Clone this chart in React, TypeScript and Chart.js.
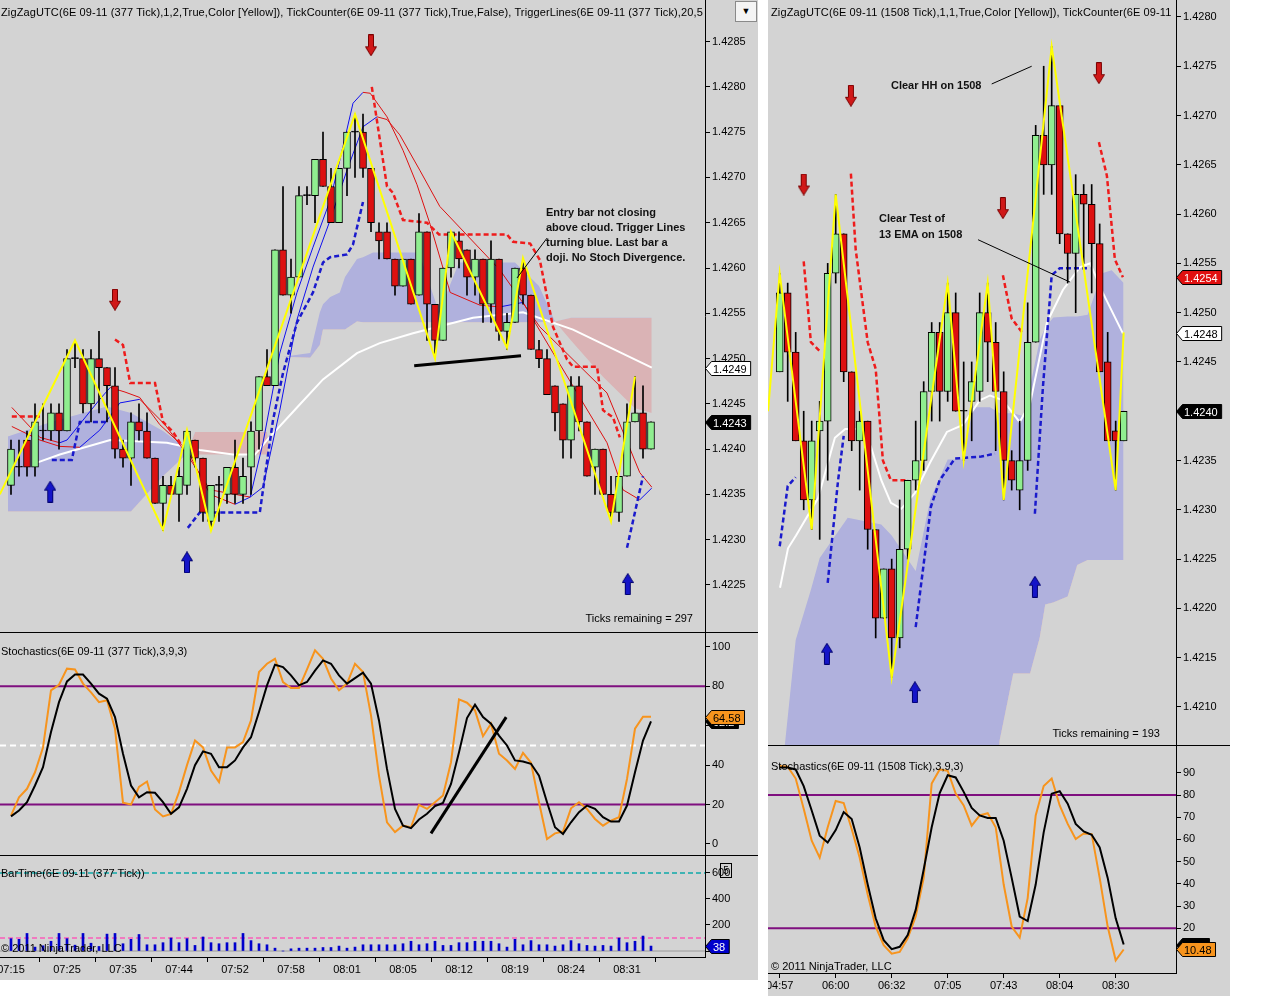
import React, { useEffect, useRef } from "react";
import { Chart, registerables } from "chart.js";

Chart.register(...registerables);

type XY = [number, number];

/* ================= LEFT CHART : 6E 09-11 (377 Tick) ================= */
const L_OPEN = [
  1.4236, 1.4238, 1.4241, 1.4238, 1.4242, 1.4242, 1.4244, 1.4242, 1.4250, 1.4250,
  1.4245, 1.4250, 1.4249, 1.4247, 1.4240, 1.4239, 1.4243, 1.4242, 1.4239, 1.4234,
  1.4236, 1.4235, 1.4236, 1.4241, 1.4239, 1.4232, 1.4236, 1.4235, 1.4238, 1.4235,
  1.4238, 1.4242, 1.4248, 1.4247, 1.4262, 1.4257, 1.4259, 1.4268, 1.4268, 1.4272,
  1.4269, 1.4265, 1.4271, 1.4275, 1.4275, 1.4271, 1.4264, 1.4264, 1.4261, 1.4258,
  1.4261, 1.4257, 1.4264, 1.4256, 1.4252, 1.4260, 1.4263, 1.4262, 1.4259, 1.4261,
  1.4256, 1.4261, 1.4253, 1.4254, 1.4260, 1.4257, 1.4251, 1.4250, 1.4247, 1.4245,
  1.4241, 1.4247, 1.4243, 1.4238, 1.4240, 1.4235, 1.4233, 1.4237, 1.4243, 1.4244,
  1.4240,
];
const L_HIGH = [
  1.4241, 1.4241, 1.4242, 1.4245, 1.4245, 1.4245, 1.4245, 1.4251, 1.4252, 1.4251,
  1.4251, 1.4253, 1.4249, 1.4249, 1.4241, 1.4244, 1.4245, 1.4244, 1.4239, 1.4237,
  1.4237, 1.4238, 1.4242, 1.4241, 1.4239, 1.4236, 1.4237, 1.4238, 1.4241, 1.4239,
  1.4243, 1.4248, 1.4251, 1.4262, 1.4269, 1.4261, 1.4269, 1.4269, 1.4272, 1.4275,
  1.4271, 1.4271, 1.4275, 1.4277, 1.4277, 1.4271, 1.4265, 1.4265, 1.4261, 1.4261,
  1.4261, 1.4266, 1.4264, 1.4256, 1.4260, 1.4264, 1.4264, 1.4262, 1.4262, 1.4261,
  1.4263, 1.4261, 1.4255, 1.4260, 1.4261, 1.4257, 1.4252, 1.4251, 1.4247, 1.4245,
  1.4248, 1.4248, 1.4243, 1.4240, 1.4240, 1.4237, 1.4237, 1.4245, 1.4248, 1.4247,
  1.4243,
];
const L_LOW = [
  1.4235, 1.4237, 1.4237, 1.4237, 1.4241, 1.4241, 1.4240, 1.4242, 1.4249, 1.4244,
  1.4243, 1.4244, 1.4243, 1.4239, 1.4238, 1.4236, 1.4241, 1.4239, 1.4234, 1.4231,
  1.4235, 1.4232, 1.4235, 1.4238, 1.4232, 1.4231, 1.4232, 1.4234, 1.4234, 1.4234,
  1.4235, 1.4240, 1.4247, 1.4247, 1.4257, 1.4255, 1.4259, 1.4267, 1.4265, 1.4269,
  1.4265, 1.4265, 1.4268, 1.4270, 1.4270, 1.4264, 1.4261, 1.4261, 1.4257, 1.4258,
  1.4256, 1.4257, 1.4252, 1.4250, 1.4252, 1.4259, 1.4260, 1.4257, 1.4257, 1.4254,
  1.4254, 1.4252, 1.4251, 1.4254, 1.4256, 1.4251, 1.4249, 1.4246, 1.4242, 1.4239,
  1.4239, 1.4242, 1.4237, 1.4235, 1.4235, 1.4232, 1.4232, 1.4237, 1.4243, 1.4239,
  1.4240,
];
const L_CLOSE = [
  1.4240, 1.4238, 1.4238, 1.4243, 1.4242, 1.4244, 1.4242, 1.4250, 1.4250, 1.4245,
  1.4250, 1.4249, 1.4247, 1.4240, 1.4239, 1.4243, 1.4242, 1.4239, 1.4234, 1.4236,
  1.4235, 1.4237, 1.4242, 1.4239, 1.4233, 1.4236, 1.4236, 1.4238, 1.4235, 1.4237,
  1.4242, 1.4248, 1.4247, 1.4262, 1.4257, 1.4259, 1.4268, 1.4268, 1.4272, 1.4269,
  1.4265, 1.4271, 1.4275, 1.4275, 1.4271, 1.4265, 1.4263, 1.4261, 1.4258, 1.4261,
  1.4256, 1.4264, 1.4256, 1.4252, 1.4260, 1.4264, 1.4261, 1.4259, 1.4261, 1.4256,
  1.4261, 1.4253, 1.4254, 1.4260, 1.4257, 1.4251, 1.4250, 1.4246, 1.4244, 1.4241,
  1.4247, 1.4243, 1.4237, 1.4240, 1.4235, 1.4233, 1.4237, 1.4243, 1.4244, 1.4240,
  1.4243,
];
const L_TIME_IDX = [0, 7, 14, 21, 28, 35, 42, 49, 56, 63, 70, 77];
const L_TIME_LABELS = ["07:15", "07:25", "07:35", "07:44", "07:52", "07:58", "08:01", "08:05", "08:12", "08:19", "08:24", "08:31"];
const L_PRICE_TICKS = [1.4225, 1.423, 1.4235, 1.424, 1.4245, 1.425, 1.4255, 1.426, 1.4265, 1.427, 1.4275, 1.428, 1.4285];

const L_CLOUD_IDX = [-0.4, 5, 12, 15, 19, 22, 23, 32, 32.2, 34, 37.4, 38.6, 39, 39.9, 41.1, 41.75, 43.25, 44, 45.25, 51, 53.5, 56, 63, 66, 68, 70, 74, 78, 80.1];
const L_CLOUD_A = [1.42414, 1.4243, 1.42447, 1.4244, 1.4242, 1.424, 1.42394, 1.42394, 1.424, 1.42502, 1.42506, 1.42551, 1.4256, 1.42568, 1.42573, 1.4259, 1.4261, 1.42612, 1.42617, 1.42617, 1.42551, 1.42606, 1.42606, 1.4258, 1.42541, 1.4252, 1.4248, 1.42445, 1.4244];
const L_CLOUD_B = [1.42331, 1.42331, 1.42331, 1.42331, 1.4237, 1.42395, 1.42419, 1.42419, 1.424, 1.42502, 1.42501, 1.42515, 1.42532, 1.42532, 1.42532, 1.42532, 1.42541, 1.4254, 1.4254, 1.4254, 1.4254, 1.4254, 1.4254, 1.4254, 1.42541, 1.42545, 1.42545, 1.42545, 1.42545];

const L_WHITE: XY[] = [[3.25, 1.42385], [6.1, 1.42394], [12.4, 1.4241], [19.5, 1.42407], [23.6, 1.42399], [27.75, 1.42394], [30.5, 1.42394], [32, 1.4241], [35.75, 1.42446], [39, 1.42477], [43.25, 1.42506], [46.1, 1.42517], [50.25, 1.42528], [57.75, 1.42545], [64, 1.42551], [70.25, 1.42532], [80.1, 1.4249]];
const L_MA_FAST: XY[] = [[0.1, 1.42446], [3.6, 1.42413], [6.1, 1.42407], [7, 1.4241], [11.1, 1.42455], [12.4, 1.42468], [14.25, 1.42463], [16.1, 1.42457], [18.6, 1.42427], [22, 1.42399], [24.9, 1.4235], [28, 1.42339], [29.9, 1.42347], [31.5, 1.42407], [33.6, 1.42506], [35.75, 1.42573], [37.75, 1.42623], [39.9, 1.42675], [41.1, 1.42719], [42.75, 1.42782], [44, 1.42794], [44.9, 1.42793], [47, 1.42767], [49, 1.4273], [50.75, 1.42692], [52.4, 1.42648], [54.9, 1.42573], [58.6, 1.42559], [61.1, 1.42557], [64, 1.42562], [68.25, 1.42499], [74.5, 1.42407], [76.5, 1.42355], [78.6, 1.42344], [80.1, 1.42357]];
const L_MA_SLOW: XY[] = [[0.1, 1.42425], [3.6, 1.4241], [6.1, 1.42403], [8.6, 1.42402], [11.1, 1.42421], [13.6, 1.42451], [16.1, 1.42455], [19.25, 1.42427], [22, 1.42394], [24.9, 1.42355], [29.9, 1.42347], [31.5, 1.42358], [33.6, 1.42443], [35.75, 1.42543], [37.75, 1.42601], [39.9, 1.42653], [42, 1.42708], [44, 1.42756], [45.75, 1.42767], [47, 1.42764], [48.6, 1.42747], [51.1, 1.42708], [53.6, 1.42668], [61.1, 1.42598], [66.1, 1.42535], [74.5, 1.42462], [78.6, 1.42374], [80.1, 1.42358]];
const L_TRIG_RED: XY[][] = [
  [[0.1, 1.42436], [3.6, 1.42436]],
  [[13, 1.42521], [14, 1.42515], [14.9, 1.42473], [18, 1.42473], [19, 1.4243], [20.25, 1.42419], [21.4, 1.42403]],
  [[45.1, 1.428], [47, 1.4269], [47.75, 1.42683], [49, 1.42653], [52, 1.4265], [53.5, 1.42637], [62, 1.42637], [62.75, 1.42629], [64.9, 1.42627], [66.1, 1.42609], [67.75, 1.42535], [69.5, 1.42499], [70.25, 1.42491], [73.25, 1.42491], [74, 1.42443], [75.25, 1.42435], [76.1, 1.42413]],
];
const L_TRIG_BLUE: XY[][] = [
  [[5.1, 1.42388], [7.6, 1.42388], [8.6, 1.4243], [12, 1.4243]],
  [[22.1, 1.42313], [23.6, 1.4233], [31.1, 1.4233], [31.5, 1.42355], [32.75, 1.42432], [34, 1.42484], [35.75, 1.4254], [37.75, 1.42573], [39, 1.42606], [39.9, 1.42612], [42, 1.42615], [42.75, 1.42626], [44, 1.42673]],
  [[77, 1.42291], [79, 1.4237]],
];
const L_ZIGZAG: XY[] = [[-1.4, 1.4235], [8, 1.4252], [19, 1.42311], [22, 1.42421], [25, 1.4231], [43, 1.4277], [53, 1.425], [55, 1.4264], [62, 1.42512], [64, 1.42611], [75, 1.4232], [78, 1.4248]];
const L_ARROW_DOWN: XY[] = [[13, 1.42565], [45, 1.42846]];
const L_ARROW_UP: XY[] = [[4.9, 1.42353], [22, 1.42275], [77.1, 1.42251]];
const L_NOTE_LINE: XY[] = [[50.4, 1.42492], [63.75, 1.42503]];
const L_NOTE_PTR: XY[] = [[67, 1.42633], [63.25, 1.42589]];

const L_STOCH_K = [
  14.4, 23.7, 28, 36.4, 49, 78, 80.8, 89, 88.6, 81.4,
  77, 72, 73, 58.5, 21, 20, 29, 31.7, 17.5, 14,
  15.3, 26.3, 40, 52.5, 49, 37.3, 31.4, 49, 49, 51.7,
  62.7, 87.3, 91.5, 94, 82.2, 79.2, 79.2, 88.6, 98.3, 94,
  84, 78, 81.4, 91.5, 87.3, 65.3, 34.7, 11, 6, 9.3,
  8.5, 19.8, 17.8, 21.2, 24.6, 41.5, 73.4, 71.7, 67.8, 54.7,
  61, 45.8, 42.4, 38.1, 46.3, 41.2, 21.2, 2.5, 5.4, 6.3,
  18.1, 21.2, 17.8, 12.7, 9.3, 11.9, 13.6, 33, 58.5, 64.6,
  64.58,
];
const L_STOCH_D = [
  14, 17, 21.2, 29.7, 39, 56.8, 72, 82.5, 86, 86,
  81.4, 76.3, 73.7, 64.4, 45.8, 29.7, 23.7, 26.3, 26, 21.2,
  15.3, 18.6, 28, 40, 47, 45.8, 39, 39, 42.4, 49,
  54.2, 67, 80.5, 91, 89.8, 85.6, 80.5, 82.2, 88, 93.2,
  91.5, 85.6, 81.4, 84.2, 87, 81.4, 62.7, 38.1, 17.8, 9.3,
  8, 12.4, 15.3, 19.2, 20.8, 30.5, 46.6, 63.9, 70.7, 64.4,
  61, 55, 50, 42.4, 41.9, 40.7, 34.7, 21.2, 8.5, 5.1,
  11, 16.1, 19.5, 17.8, 13.6, 11.4, 11.4, 19.5, 36.4, 52.5,
  62.2,
];
const L_STOCH_NOTE: XY[] = [[52.5, 5.4], [61.9, 64.4]];
const L_STOCH_TICKS = [0, 20, 40, 60, 80, 100];
const STOCH_BANDS = [80, 20];
const STOCH_MID = 50;

const L_BARTIME = [
  95, 90, 135, 30, 40, 75, 135, 95, 45, 135,
  60, 35, 130, 135, 56, 90, 127, 48, 48, 64,
  100, 64, 95, 43, 108, 64, 56, 64, 64, 135,
  80, 56, 48, 22, 0, 17, 22, 22, 22, 27,
  27, 38, 22, 30, 48, 48, 48, 48, 48, 56,
  75, 48, 56, 75, 43, 43, 64, 64, 75, 75,
  75, 56, 30, 90, 48, 80, 48, 48, 38, 48,
  80, 56, 43, 38, 43, 38, 100, 64, 75, 115,
  38,
];
const L_BARTIME_TICKS = [0, 200, 400, 600];
const BARTIME_UPPER = 600;
const BARTIME_LOWER = 100;

/* ================= RIGHT CHART : 6E 09-11 (1508 Tick) ================= */
const R_OPEN = [1.4244, 1.4252, 1.4246, 1.4237, 1.4231, 1.4238, 1.4239, 1.4254, 1.4258, 1.4244, 1.4237, 1.4239, 1.4228, 1.4219, 1.4224, 1.4217, 1.4226, 1.4233, 1.4235, 1.4242, 1.4248, 1.4242, 1.425, 1.424, 1.4241, 1.4242, 1.425, 1.4247, 1.4242, 1.4235, 1.4232, 1.4235, 1.4247, 1.4268, 1.4265, 1.4271, 1.4258, 1.4256, 1.4262, 1.4261, 1.4257, 1.4245, 1.4238, 1.4237];
const R_HIGH = [1.4254, 1.4253, 1.4248, 1.424, 1.4239, 1.4241, 1.4255, 1.4262, 1.4258, 1.4244, 1.424, 1.4239, 1.4228, 1.4224, 1.4225, 1.4231, 1.4233, 1.4239, 1.4243, 1.4249, 1.4249, 1.4253, 1.4252, 1.4245, 1.4245, 1.4252, 1.4253, 1.4249, 1.4244, 1.4236, 1.4239, 1.4251, 1.4269, 1.4275, 1.4277, 1.4271, 1.4258, 1.4264, 1.4263, 1.4263, 1.4259, 1.4248, 1.4239, 1.424];
const R_LOW = [1.4244, 1.4241, 1.4237, 1.423, 1.4228, 1.4227, 1.4233, 1.4253, 1.4243, 1.4236, 1.4232, 1.4226, 1.4217, 1.4219, 1.4213, 1.4216, 1.4225, 1.4232, 1.4234, 1.4239, 1.4239, 1.4241, 1.424, 1.4235, 1.4237, 1.4241, 1.4243, 1.4236, 1.4231, 1.4232, 1.423, 1.4234, 1.4247, 1.4262, 1.4262, 1.4257, 1.4253, 1.425, 1.4255, 1.4252, 1.4244, 1.4237, 1.4232, 1.4237];
const R_CLOSE = [1.4252, 1.4246, 1.4237, 1.4231, 1.4237, 1.4239, 1.4254, 1.4258, 1.4244, 1.4237, 1.4239, 1.4228, 1.4219, 1.4224, 1.4217, 1.4226, 1.4233, 1.4235, 1.4242, 1.4248, 1.4242, 1.425, 1.424, 1.424, 1.4243, 1.425, 1.4247, 1.4242, 1.4235, 1.4233, 1.4235, 1.4247, 1.4268, 1.4265, 1.4271, 1.4258, 1.4256, 1.4262, 1.4261, 1.4257, 1.4244, 1.4237, 1.4237, 1.424];
const R_TIME_IDX = [0, 7, 14, 21, 28, 35, 42];
const R_TIME_LABELS = ["04:57", "06:00", "06:32", "07:05", "07:43", "08:04", "08:30"];
const R_PRICE_TICKS = [1.421, 1.4215, 1.422, 1.4225, 1.423, 1.4235, 1.424, 1.4245, 1.425, 1.4255, 1.426, 1.4265, 1.427, 1.4275, 1.428];

const R_CLOUD_IDX = [-1.5, 0.7, 2, 3.9, 5, 8.5, 12.7, 14, 17, 18.8, 21, 22.9, 24.2, 26.3, 27.5, 29.2, 30.5, 31.3, 32.5, 33.2, 34.2, 36, 37.2, 38.5, 40.3, 41.5, 43];
const R_CLOUD_A = [1.419, 1.42066, 1.42168, 1.42219, 1.42251, 1.42292, 1.42285, 1.42274, 1.42238, 1.4231, 1.42351, 1.42351, 1.42404, 1.42404, 1.42398, 1.42398, 1.42395, 1.42425, 1.42472, 1.42485, 1.42495, 1.42496, 1.42496, 1.42498, 1.4254, 1.42543, 1.4253];
const R_CLOUD_B = [1.419, 1.419, 1.419, 1.419, 1.419, 1.419, 1.419, 1.419, 1.419, 1.419, 1.419, 1.419, 1.419, 1.419, 1.42066, 1.42134, 1.42134, 1.42134, 1.4217, 1.42204, 1.42206, 1.42212, 1.42244, 1.42249, 1.42249, 1.42249, 1.42249];

const R_WHITE: XY[] = [[0.04, 1.42221], [1.04, 1.42261], [2.04, 1.42274], [4.8, 1.42312], [6.9, 1.42373], [8.2, 1.42382], [10.2, 1.42382], [11.4, 1.42364], [12.7, 1.4233], [13.9, 1.42307], [15.2, 1.42301], [16.9, 1.42317], [18.8, 1.42348], [20.9, 1.42379], [22.9, 1.42386], [25, 1.42411], [26.3, 1.42416], [27.9, 1.42411], [30, 1.42389], [31.3, 1.42408], [33.4, 1.4249], [35.4, 1.42523], [37.5, 1.42546], [38.8, 1.4255], [40.4, 1.4252], [42.9, 1.42479]];
const R_TRIG_RED: XY[][] = [
  [[3, 1.42552], [3.9, 1.4247], [5, 1.42461]],
  [[8.9, 1.42641], [9.5, 1.42564], [11, 1.4247], [12, 1.42443], [12.9, 1.4235], [13.9, 1.4233], [15.8, 1.4233]],
  [[27.9, 1.42538], [29, 1.42494], [30.4, 1.42479]],
  [[39.9, 1.42673], [40.9, 1.42639], [41.9, 1.42554], [42.9, 1.42536]],
];
const R_TRIG_BLUE: XY[][] = [
  [[0, 1.42263], [1, 1.42324], [2, 1.42333]],
  [[6, 1.42226], [7.3, 1.4233], [8, 1.42375]],
  [[17, 1.42181], [18.9, 1.42303], [20, 1.4233], [21.9, 1.42352], [25.2, 1.42354], [26.9, 1.42357]],
  [[31.9, 1.42296], [32.9, 1.42424], [33.8, 1.42517], [34, 1.42538], [35, 1.42545], [38.8, 1.42545]],
];
const R_ZIGZAG: XY[] = [[-1.46, 1.424], [0, 1.4254], [4, 1.4228], [7, 1.4262], [14, 1.4213], [21, 1.4253], [23, 1.4235], [26, 1.4253], [28, 1.4231], [34, 1.4277], [42, 1.4232], [43, 1.4248]];
const R_ARROW_DOWN: XY[] = [[3, 1.4263], [8.9, 1.4272], [27.9, 1.42606], [39.9, 1.42743]];
const R_ARROW_UP: XY[] = [[5.9, 1.42154], [16.9, 1.42115], [31.9, 1.42222]];
const R_NOTE_PTR1: XY[] = [[26.5, 1.42732], [31.5, 1.4275]];
const R_NOTE_PTR2: XY[] = [[24.8, 1.42574], [36.3, 1.42531]];

const R_STOCH_K = [93, 92.7, 87.4, 73.8, 59.4, 51.8, 65.5, 77.3, 76.4, 64.7, 51.8, 35.2, 20.8, 12.4, 8.6, 9.4, 15.5, 25.3, 42.7, 85.2, 91.5, 90.9, 80.6, 75.3, 66.2, 70.8, 71.8, 65.5, 39.7, 20.8, 15.8, 33.6, 70.8, 84, 87.4, 75.3, 67, 60.2, 62.7, 62.4, 42.7, 20.8, 5.6, 10.48];
const R_STOCH_D = [92.4, 92.4, 91.5, 84, 73, 61.7, 58.6, 64.2, 72.3, 69.2, 56.4, 39.7, 24.5, 14.7, 10.6, 11.7, 17, 28.3, 46.5, 65.5, 80.9, 88.9, 87.9, 81.4, 74.2, 70.8, 69.7, 69.7, 59.4, 42.7, 25.3, 23.3, 39.7, 63.2, 80.6, 81.7, 76.1, 67, 63.6, 62.1, 56.4, 42.7, 24.5, 12.7];
const R_STOCH_TICKS = [10, 20, 30, 40, 50, 60, 70, 80, 90];

/* ================= styling ================= */
const GRAY = "#d3d3d3";
const FONT = "'Liberation Sans', Arial, sans-serif";
const GREEN_BODY = "#90ee90";
const RED_BODY = "#dd1010";
const CLOUD_BLUE = "#b0b1dd";
const CLOUD_RED = "#dab3b5";
const YELLOW = "#ffff00";
const TRIG_RED = "#ee1c1c";
const TRIG_BLUE = "#1a1acc";
const MA_RED = "#dd1111";
const MA_BLUE = "#1010ee";
const PURPLE = "#7f0f7f";
const ORANGE = "#f7941d";

/* ================= helpers ================= */
const pts = (a: XY[]) => a.map(([x, y]) => ({ x, y }));
const zip = (xs: number[], ys: number[]) => xs.map((x, i) => ({ x, y: ys[i] }));
const seq = (ys: number[]) => ys.map((y, i) => ({ x: i, y }));
const segs = (s: XY[][]) => {
  const out: any[] = [];
  s.forEach((seg, k) => {
    if (k > 0) out.push({ x: (s[k - 1][s[k - 1].length - 1][0] + seg[0][0]) / 2, y: null });
    out.push(...pts(seg));
  });
  return out;
};
const last = (a: any[]) => a[a.length - 1];

const lineDs = (data: any[], color: string, width: number, order: number, extra: any = {}) => ({
  type: "line",
  data,
  borderColor: color,
  borderWidth: width,
  pointRadius: 0,
  pointHoverRadius: 0,
  tension: 0,
  fill: false,
  spanGaps: false,
  order,
  ...extra,
});

const candleDs = (O: number[], H: number[], L: number[], C: number[]) => [
  {
    type: "bar",
    data: O.map((_, i) => ({ x: i, y: [L[i], H[i]] })),
    backgroundColor: "#000",
    borderWidth: 0,
    barThickness: 1,
    grouped: false,
    order: 6,
  },
  {
    type: "bar",
    data: O.map((o, i) => ({ x: i, y: [o, C[i]] })),
    backgroundColor: O.map((o, i) => (C[i] > o ? GREEN_BODY : C[i] < o ? RED_BODY : "#000")),
    borderColor: "#000",
    borderWidth: 1,
    borderSkipped: false,
    barThickness: 7,
    minBarLength: 1,
    grouped: false,
    order: 5,
  },
];

const slopeSegment = {
  borderColor: (ctx: any) => (ctx.p1.parsed.y > ctx.p0.parsed.y ? MA_BLUE : MA_RED),
};

function makeArrow(up: boolean, fill: string, stroke: string) {
  const c = document.createElement("canvas");
  c.width = 12;
  c.height = 22;
  const g = c.getContext("2d")!;
  g.save();
  if (up) {
    g.translate(0, 22);
    g.scale(1, -1);
  }
  g.beginPath();
  g.moveTo(3.5, 0.5);
  g.lineTo(8.5, 0.5);
  g.lineTo(8.5, 12.5);
  g.lineTo(11.5, 12.5);
  g.lineTo(6, 21.5);
  g.lineTo(0.5, 12.5);
  g.lineTo(3.5, 12.5);
  g.closePath();
  g.fillStyle = fill;
  g.fill();
  g.lineWidth = 1;
  g.strokeStyle = stroke;
  g.stroke();
  g.restore();
  return c;
}

type Box = { v: number; text: string; bg: string; fg: string };
const axisBoxes = (boxes: Box[]) => ({
  id: "axisBoxes",
  afterDraw(chart: any) {
    const { ctx, chartArea, scales } = chart;
    const ax = chartArea.right;
    ctx.save();
    ctx.font = `11px ${FONT}`;
    for (const b of boxes) {
      const py = Math.round(scales.y.getPixelForValue(b.v)) + 0.5;
      const w = ctx.measureText(b.text).width + 12;
      ctx.beginPath();
      ctx.moveTo(ax + 0.5, py);
      ctx.lineTo(ax + 6.5, py - 7);
      ctx.lineTo(ax + w, py - 7);
      ctx.lineTo(ax + w, py + 7);
      ctx.lineTo(ax + 6.5, py + 7);
      ctx.closePath();
      ctx.fillStyle = b.bg;
      ctx.fill();
      ctx.strokeStyle = "#000";
      ctx.lineWidth = 1;
      ctx.stroke();
      ctx.fillStyle = b.fg;
      ctx.textBaseline = "middle";
      ctx.textAlign = "left";
      ctx.fillText(b.text, ax + 8, py + 1);
    }
    ctx.restore();
  },
});

const tickFont = { family: FONT, size: 11 };

function yAxis(min: number, max: number, ticks: number[], fmt: (v: number) => string, width: number) {
  return {
    type: "linear",
    position: "right",
    min,
    max,
    afterBuildTicks: (s: any) => {
      s.ticks = ticks.map((v) => ({ value: v }));
    },
    afterFit: (s: any) => {
      s.width = width;
      s.paddingTop = 0;
      s.paddingBottom = 0;
    },
    ticks: { callback: (v: any) => fmt(Number(v)), color: "#000", font: tickFont, padding: 2, autoSkip: false },
    grid: { drawOnChartArea: false, drawTicks: true, tickLength: 5, color: "#000" },
    border: { display: true, color: "#000", width: 1 },
  };
}
const xHidden = (min: number, max: number) => ({ type: "linear", min, max, display: false, offset: false });
function xAxis(min: number, max: number, idx: number[], labels: string[]) {
  return {
    type: "linear",
    position: "bottom",
    min,
    max,
    offset: false,
    afterBuildTicks: (s: any) => {
      s.ticks = idx.map((v) => ({ value: v }));
    },
    afterFit: (s: any) => {
      s.height = 23;
      s.paddingLeft = 0;
      s.paddingRight = 0;
    },
    ticks: {
      callback: (v: any) => labels[idx.indexOf(Number(v))] ?? "",
      autoSkip: false,
      maxRotation: 0,
      minRotation: 0,
      color: "#000",
      font: tickFont,
      padding: 1,
    },
    grid: { drawOnChartArea: false, drawTicks: true, tickLength: 5, color: "#000" },
    border: { display: true, color: "#000", width: 1 },
  };
}
const baseOptions = (x: any, y: any) => ({
  responsive: false,
  maintainAspectRatio: false,
  animation: false,
  devicePixelRatio: 1,
  events: [],
  layout: { padding: 0, autoPadding: false },
  plugins: {
    legend: { display: false },
    tooltip: { enabled: false },
    filler: { drawTime: "beforeDatasetsDraw" },
  },
  scales: { x, y },
});
const hline = (v: number, x0: number, x1: number) => [{ x: x0, y: v }, { x: x1, y: v }];

/* axis ranges (pixel calibration of the panels) */
const LX: [number, number] = [-1.375, 86.75];
const RX: [number, number] = [-1.4625, 49.54];

function priceConfig(o: any) {
  return {
    type: "line",
    data: {
      datasets: [
        lineDs(zip(o.cloudIdx, o.cloudA), "transparent", 1, 30, { fill: { target: "+1", above: CLOUD_BLUE, below: CLOUD_RED } }),
        lineDs(zip(o.cloudIdx, o.cloudB), "transparent", 1, 31),
        lineDs(pts(o.white), "#ffffff", 2, 20),
        ...(o.maFast ? [lineDs(pts(o.maFast), MA_RED, 1, 19, { segment: slopeSegment })] : []),
        ...(o.maSlow ? [lineDs(pts(o.maSlow), MA_RED, 1, 18, { segment: slopeSegment })] : []),
        lineDs(segs(o.trigRed), TRIG_RED, 2.5, 15, { borderDash: [5, 3] }),
        lineDs(segs(o.trigBlue), TRIG_BLUE, 2.5, 14, { borderDash: [5, 3] }),
        ...candleDs(o.O, o.H, o.L, o.C),
        lineDs(pts(o.zigzag), YELLOW, 2, 4),
        ...o.notes.map((n: any) => lineDs(pts(n.pts), "#000", n.w, 3)),
        { type: "line", data: pts(o.arrowDown), showLine: false, pointStyle: o.redArrow, pointRadius: 6, order: 2 },
        { type: "line", data: pts(o.arrowUp), showLine: false, pointStyle: o.blueArrow, pointRadius: 6, order: 2 },
      ],
    },
    options: baseOptions(xHidden(o.x[0], o.x[1]), yAxis(o.y[0], o.y[1], o.ticks, (v) => v.toFixed(4), o.axisW)),
    plugins: [axisBoxes(o.boxes)],
  };
}

function stochConfig(o: any) {
  const [x0, x1] = o.x;
  return {
    type: "line",
    data: {
      datasets: [
        ...STOCH_BANDS.map((v) => lineDs(hline(v, x0, x1), PURPLE, 2, 10)),
        ...(o.mid ? [lineDs(hline(STOCH_MID, x0, x1), "#ffffff", 2, 10, { borderDash: [6, 4] })] : []),
        lineDs(seq(o.K), ORANGE, 2, 5),
        lineDs(seq(o.D), "#000000", 2, 4),
        ...(o.note ? [lineDs(pts(o.note), "#000", 3, 3)] : []),
      ],
    },
    options: baseOptions(
      o.xAxis ? xAxis(x0, x1, o.xAxis.idx, o.xAxis.labels) : xHidden(x0, x1),
      yAxis(o.y[0], o.y[1], o.ticks, (v) => String(v), o.axisW)
    ),
    plugins: [
      axisBoxes([
        { v: last(o.D), text: last(o.D).toFixed(1), bg: "#000", fg: "#fff" },
        { v: last(o.K), text: last(o.K).toFixed(2), bg: ORANGE, fg: "#000" },
      ]),
    ],
  };
}

function barTimeConfig() {
  const [x0, x1] = LX;
  return {
    type: "line",
    data: {
      datasets: [
        lineDs(hline(0, x0, x1), "#9a9a9a", 1, 12),
        lineDs(hline(BARTIME_UPPER, x0, x1), "#3fb3b3", 2, 11, { borderDash: [5, 3] }),
        lineDs(hline(BARTIME_LOWER, x0, x1), "#f07ac0", 2, 11, { borderDash: [5, 3] }),
        {
          type: "bar",
          data: seq(L_BARTIME),
          backgroundColor: "#0000cc",
          barThickness: 2,
          grouped: false,
          order: 5,
        },
      ],
    },
    options: baseOptions(xAxis(x0, x1, L_TIME_IDX, L_TIME_LABELS), yAxis(-46, 738, L_BARTIME_TICKS, (v) => String(v), 53)),
    plugins: [axisBoxes([{ v: last(L_BARTIME), text: String(last(L_BARTIME)), bg: "#0000cc", fg: "#fff" }])],
  };
}

const txt = (style: any): any => ({
  position: "absolute",
  whiteSpace: "nowrap",
  font: `11px ${FONT}`,
  color: "#000",
  lineHeight: "14px",
  ...style,
});
const noteStyle = (style: any): any => ({
  position: "absolute",
  whiteSpace: "nowrap",
  font: `bold 11px ${FONT}`,
  color: "#111",
  ...style,
});

export default function App() {
  const lp = useRef<HTMLCanvasElement>(null);
  const ls = useRef<HTMLCanvasElement>(null);
  const lb = useRef<HTMLCanvasElement>(null);
  const rp = useRef<HTMLCanvasElement>(null);
  const rs = useRef<HTMLCanvasElement>(null);

  useEffect(() => {
    const redArrow = makeArrow(false, "#d01818", "#7a0000");
    const blueArrow = makeArrow(true, "#1414c8", "#00006e");
    const charts: Chart[] = [];
    charts.push(
      new Chart(lp.current as any, priceConfig({
        O: L_OPEN, H: L_HIGH, L: L_LOW, C: L_CLOSE,
        cloudIdx: L_CLOUD_IDX, cloudA: L_CLOUD_A, cloudB: L_CLOUD_B,
        white: L_WHITE, maFast: L_MA_FAST, maSlow: L_MA_SLOW,
        trigRed: L_TRIG_RED, trigBlue: L_TRIG_BLUE, zigzag: L_ZIGZAG,
        notes: [{ pts: L_NOTE_LINE, w: 3 }, { pts: L_NOTE_PTR, w: 1 }],
        arrowDown: L_ARROW_DOWN, arrowUp: L_ARROW_UP, redArrow, blueArrow,
        x: LX, y: [1.42198, 1.42896], ticks: L_PRICE_TICKS, axisW: 53,
        boxes: [
          { v: last(L_WHITE)[1], text: last(L_WHITE)[1].toFixed(4), bg: "#fff", fg: "#000" },
          { v: last(L_CLOSE), text: last(L_CLOSE).toFixed(4), bg: "#000", fg: "#fff" },
        ],
      }) as any)
    );
    charts.push(
      new Chart(ls.current as any, stochConfig({
        K: L_STOCH_K, D: L_STOCH_D, x: LX, y: [-5.6, 107.6], ticks: L_STOCH_TICKS, axisW: 53, mid: true, note: L_STOCH_NOTE,
      }) as any)
    );
    charts.push(new Chart(lb.current as any, barTimeConfig() as any));
    const rRed = last(last(R_TRIG_RED))[1];
    charts.push(
      new Chart(rp.current as any, priceConfig({
        O: R_OPEN, H: R_HIGH, L: R_LOW, C: R_CLOSE,
        cloudIdx: R_CLOUD_IDX, cloudA: R_CLOUD_A, cloudB: R_CLOUD_B,
        white: R_WHITE, trigRed: R_TRIG_RED, trigBlue: R_TRIG_BLUE, zigzag: R_ZIGZAG,
        notes: [{ pts: R_NOTE_PTR1, w: 1 }, { pts: R_NOTE_PTR2, w: 1 }],
        arrowDown: R_ARROW_DOWN, arrowUp: R_ARROW_UP, redArrow, blueArrow,
        x: RX, y: [1.420614, 1.428172], ticks: R_PRICE_TICKS, axisW: 54,
        boxes: [
          { v: rRed, text: rRed.toFixed(4), bg: "#e01010", fg: "#fff" },
          { v: last(R_WHITE)[1], text: last(R_WHITE)[1].toFixed(4), bg: "#fff", fg: "#000" },
          { v: last(R_CLOSE), text: last(R_CLOSE).toFixed(4), bg: "#000", fg: "#fff" },
        ],
      }) as any)
    );
    charts.push(
      new Chart(rs.current as any, stochConfig({
        K: R_STOCH_K, D: R_STOCH_D, x: RX, y: [-0.1, 102.5], ticks: R_STOCH_TICKS, axisW: 54,
        xAxis: { idx: R_TIME_IDX, labels: R_TIME_LABELS },
      }) as any)
    );
    return () => charts.forEach((c) => c.destroy());
  }, []);

  const cv = (left: number, top: number): any => ({ position: "absolute", left, top, background: GRAY, display: "block" });
  const rule = (left: number, top: number, width: number): any => ({ position: "absolute", left, top, width, height: 1, background: "#000" });

  return (
    <div style={{ position: "fixed", left: 0, top: 0, width: 1264, height: 996, background: "#fff", overflow: "hidden" }}>
      <canvas ref={lp} width={758} height={632} style={cv(0, 0)} />
      <canvas ref={ls} width={758} height={223} style={cv(0, 632)} />
      <canvas ref={lb} width={758} height={125} style={cv(0, 855)} />
      <canvas ref={rp} width={462} height={745} style={cv(768, 0)} />
      <canvas ref={rs} width={462} height={251} style={cv(768, 745)} />

      <div style={rule(0, 632, 758)} />
      <div style={rule(0, 855, 758)} />
      <div style={rule(768, 745, 462)} />

      {/* left headers */}
      <div style={txt({ left: 1, top: 5, width: 704, overflow: "hidden", letterSpacing: "0.12px" })}>
        ZigZagUTC(6E 09-11 (377 Tick),1,2,True,Color [Yellow]), TickCounter(6E 09-11 (377 Tick),True,False), TriggerLines(6E 09-11 (377 Tick),20,5
      </div>
      <div style={{ position: "absolute", left: 735, top: 1, width: 20, height: 19, background: "#f4f4f4", border: "1px solid #8a8a8a", font: `9px ${FONT}`, textAlign: "center", lineHeight: "19px" }}>▼</div>
      <div style={noteStyle({ left: 546, top: 205, lineHeight: "15px" })}>
        Entry bar not closing<br />above cloud. Trigger Lines<br />turning blue. Last bar a<br />doji. No Stoch Divergence.
      </div>
      <div style={txt({ left: 0, top: 611, width: 693, textAlign: "right" })}>Ticks remaining = 297</div>
      <div style={txt({ left: 1, top: 644 })}>Stochastics(6E 09-11 (377 Tick),3,9,3)</div>
      <div style={txt({ left: 1, top: 866 })}>BarTime(6E 09-11 (377 Tick))</div>
      <div style={txt({ left: 1, top: 941 })}>© 2011 NinjaTrader, LLC</div>
      <div style={{ position: "absolute", left: 720, top: 863, width: 10, height: 13, border: "1px solid #000", font: `10px ${FONT}`, textAlign: "center", lineHeight: "13px" }}>5</div>

      {/* right headers */}
      <div style={txt({ left: 771, top: 5, width: 404, overflow: "hidden", letterSpacing: "0.12px" })}>
        ZigZagUTC(6E 09-11 (1508 Tick),1,1,True,Color [Yellow]), TickCounter(6E 09-11
      </div>
      <div style={noteStyle({ left: 891, top: 78, lineHeight: "15px" })}>Clear HH on 1508</div>
      <div style={noteStyle({ left: 879, top: 210, lineHeight: "16px" })}>
        Clear Test of<br />13 EMA on 1508
      </div>
      <div style={txt({ left: 768, top: 726, width: 392, textAlign: "right" })}>Ticks remaining = 193</div>
      <div style={txt({ left: 771, top: 759 })}>Stochastics(6E 09-11 (1508 Tick),3,9,3)</div>
      <div style={txt({ left: 771, top: 959 })}>© 2011 NinjaTrader, LLC</div>
    </div>
  );
}
